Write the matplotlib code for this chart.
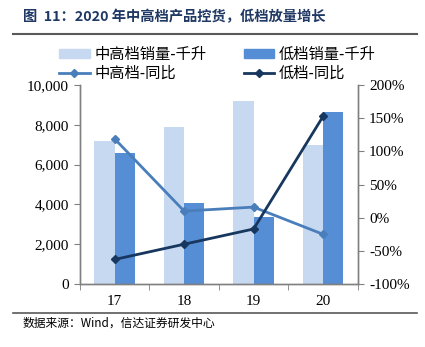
import matplotlib
matplotlib.use("Agg")
import matplotlib.pyplot as plt
from matplotlib.lines import Line2D
from matplotlib.patches import Patch
import numpy as np

plt.rcParams['font.family'] = ['Noto Sans CJK SC', 'DejaVu Sans']

years = ['17', '18', '19', '20']
mid_sales = [7200, 7900, 9200, 7000]      # 中高档销量-千升
low_sales = [6600, 4050, 3350, 8650]      # 低档销量-千升
mid_yoy = [119, 10, 16, -25]              # 中高档-同比 (%)
low_yoy = [-63, -40, -17, 153]            # 低档-同比 (%)

c_mid_bar = '#C6D9F0'
c_low_bar = '#558ED5'
c_mid_line = '#4A7EBB'
c_low_line = '#17375E'
c_spine = '#808080'
serif = 'Liberation Serif'

fig = plt.figure(figsize=(4.25, 3.47), dpi=100)
ax = fig.add_axes([0.188, 0.1816, 0.654, 0.573])
ax2 = ax.twinx()

x = np.arange(len(years))
w = 0.29
ax.bar(x - w / 2, mid_sales, w, color=c_mid_bar, zorder=1)
ax.bar(x + w / 2, low_sales, w, color=c_low_bar, zorder=1)

ax2.plot(x, mid_yoy, color=c_mid_line, lw=2, marker='D', ms=4.5, zorder=3)
ax2.plot(x, low_yoy, color=c_low_line, lw=2, marker='D', ms=4.5, zorder=4)

ax.set_xlim(-0.5, 3.5)
ax.set_ylim(0, 10000)
ax.set_yticks(range(0, 10001, 2000))
ax.set_yticklabels([f'{v:,}' for v in range(0, 10001, 2000)], fontfamily=serif, fontsize=11)
ax.set_xticks(x)
ax.set_xticklabels(years, fontfamily=serif, fontsize=11)
ax.set_xticks(np.arange(-0.5, 3.6, 1), minor=True)
ax.tick_params(axis='x', which='major', length=0, pad=8)
ax.tick_params(axis='x', which='minor', length=4, color=c_spine, direction='out')
ax.tick_params(axis='y', length=4, color=c_spine, pad=4)

ax2.set_ylim(-100, 200)
ax2.set_yticks(range(-100, 201, 50))
ax2.set_yticklabels([f'{v}%' for v in range(-100, 201, 50)], fontfamily=serif, fontsize=11)
ax2.tick_params(axis='y', length=4, color=c_spine, pad=4)

for a in (ax, ax2):
    a.spines['top'].set_visible(False)
    for s in ('left', 'right', 'bottom'):
        a.spines[s].set_color(c_spine)
        a.spines[s].set_linewidth(1)

ax.set_zorder(1)
ax2.set_zorder(2)
ax2.patch.set_visible(False)

handles = [
    Patch(color=c_mid_bar),
    Line2D([], [], color=c_mid_line, lw=2, marker='D', ms=4),
    Patch(color=c_low_bar),
    Line2D([], [], color=c_low_line, lw=2, marker='D', ms=4),
]
labels = ['中高档销量-千升', '中高档-同比', '低档销量-千升', '低档-同比']
fig.legend(handles, labels, ncol=2, loc='center', bbox_to_anchor=(0.512, 0.816),
           frameon=False, prop={'size': 11}, handlelength=2.0, handleheight=0.5,
           columnspacing=2.4, labelspacing=0.12, handletextpad=0.33,
           borderpad=0, borderaxespad=0)

# title and rules
fig.text(0.054, 0.951, '图  11：2020 年中高档产品控货，低档放量增长', fontsize=10.3,
         fontweight='bold', color='#1F3864', va='center')
fig.add_artist(Line2D([0.031, 0.981], [0.902, 0.902], color='#595959', lw=1.5))
fig.add_artist(Line2D([0.031, 0.981], [0.098, 0.098], color='#595959', lw=1.2))
fig.text(0.052, 0.069, '数据来源：Wind，信达证券研发中心', fontsize=8.5, style='italic',
         color='black', va='center')

fig.savefig('out.png', dpi=100)
